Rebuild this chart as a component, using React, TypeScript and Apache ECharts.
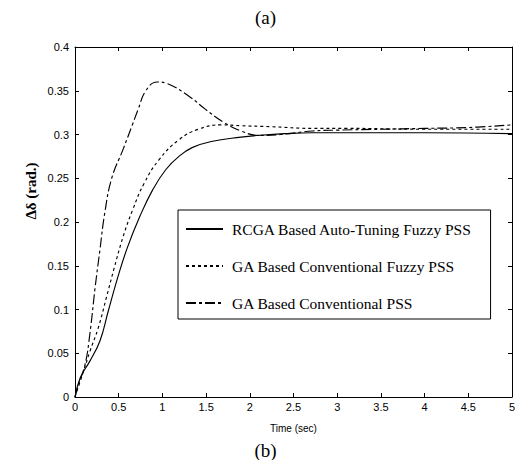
import React, { useEffect, useRef } from "react";
import * as echarts from "echarts";

const xTickLabels = ["0", "0.5", "1", "1.5", "2", "2.5", "3", "3.5", "4", "4.5", "5"];
const yTickLabels = ["0", "0.05", "0.1", "0.15", "0.2", "0.25", "0.3", "0.35", "0.4"];

const seriesNames = [
  "RCGA Based Auto-Tuning Fuzzy PSS",
  "GA Based Conventional Fuzzy PSS",
  "GA Based Conventional PSS",
];

const tRcga = [0, 0.06, 0.17, 0.285, 0.38, 0.49, 0.6, 0.74, 0.89, 1.04, 1.19, 1.34, 1.56, 1.9, 2.1, 2.4, 2.72, 3.2, 4.0, 5.0];
const vRcga = [0, 0.022, 0.041, 0.064, 0.098, 0.137, 0.171, 0.206, 0.237, 0.26, 0.275, 0.285, 0.292, 0.297, 0.299, 0.301, 0.302, 0.302, 0.302, 0.301];

const tFuzzy = [0, 0.096, 0.17, 0.266, 0.36, 0.45, 0.55, 0.66, 0.79, 0.96, 1.19, 1.41, 1.68, 1.9, 2.23, 2.72, 3.1, 4.0, 5.0];
const vFuzzy = [0, 0.029, 0.052, 0.079, 0.114, 0.148, 0.183, 0.214, 0.244, 0.271, 0.294, 0.306, 0.311, 0.31, 0.309, 0.307, 0.307, 0.306, 0.306];

const tConv = [0, 0.04, 0.115, 0.17, 0.23, 0.285, 0.34, 0.42, 0.55, 0.66, 0.72, 0.81, 0.94, 1.06, 1.3, 1.49, 1.7, 1.9, 2.1, 2.35, 2.72, 3.0, 3.5, 4.0, 4.5, 5.0];
const vConv = [0, 0.014, 0.037, 0.072, 0.125, 0.168, 0.21, 0.25, 0.283, 0.312, 0.328, 0.35, 0.36, 0.358, 0.344, 0.329, 0.314, 0.304, 0.299, 0.3, 0.304, 0.305, 0.306, 0.307, 0.308, 0.311];

const zip = (t: number[], v: number[]) => t.map((x, i) => [x, v[i]]);

export default function App() {
  const ref = useRef<HTMLDivElement>(null);
  useEffect(() => {
    if (!ref.current) return;
    const chart = echarts.init(ref.current, null, { renderer: "svg" });
    const sans = "'Liberation Sans', Arial, sans-serif";
    const serif = "'Liberation Serif', 'Times New Roman', serif";
    const axisCommon = {
      axisLine: { show: true, onZero: false, lineStyle: { color: "#000", width: 1 } },
      axisTick: { show: true, inside: true, length: 4, lineStyle: { color: "#000" } },
      splitLine: { show: false },
    };
    const lineSeries = (i: number, data: number[][], type: any) => ({
      name: seriesNames[i],
      type: "line",
      data,
      smooth: 0.45,
      showSymbol: false,
      symbol: "none",
      lineStyle: { color: "#000", width: 1.15, type },
      itemStyle: { color: "#000" },
    });
    const option: any = {
      animation: false,
      backgroundColor: "#fff",
      title: [
        {
          text: "(a)",
          left: "center",
          top: 3,
          textStyle: { fontFamily: serif, fontSize: 19, fontWeight: "normal", color: "#000" },
        },
        {
          text: "(b)",
          left: "center",
          top: 436,
          textStyle: { fontFamily: serif, fontSize: 19, fontWeight: "normal", color: "#000" },
        },
      ],
      grid: { left: 75, right: 19, top: 47, bottom: 71 },
      xAxis: [
        {
          type: "value",
          min: 0,
          max: 5,
          interval: 0.5,
          ...axisCommon,
          axisLabel: {
            color: "#000",
            fontFamily: sans,
            fontSize: 11,
            margin: 4,
            formatter: (v: number) => xTickLabels[Math.round(v / 0.5)] ?? "",
          },
          name: "Time (sec)",
          nameLocation: "middle",
          nameGap: 26,
          nameTextStyle: { color: "#000", fontFamily: sans, fontSize: 10 },
        },
        {
          type: "value",
          position: "top",
          min: 0,
          max: 5,
          interval: 0.5,
          ...axisCommon,
          axisLabel: { show: false },
        },
      ],
      yAxis: [
        {
          type: "value",
          min: 0,
          max: 0.4,
          interval: 0.05,
          ...axisCommon,
          axisLabel: {
            color: "#000",
            fontFamily: sans,
            fontSize: 11,
            margin: 6,
            formatter: (v: number) => yTickLabels[Math.round(v / 0.05)] ?? "",
          },
        },
        {
          type: "value",
          position: "right",
          min: 0,
          max: 0.4,
          interval: 0.05,
          ...axisCommon,
          axisLabel: { show: false },
        },
      ],
      legend: {
        orient: "vertical",
        left: 178,
        top: 210,
        backgroundColor: "#fff",
        borderColor: "#000",
        borderWidth: 1,
        borderRadius: 0,
        padding: [11, 18, 8, 7],
        itemWidth: 37,
        itemHeight: 14,
        itemGap: 21,
        itemStyle: { color: "transparent", borderColor: "transparent", borderWidth: 0, opacity: 0 },
        data: seriesNames.map((n) => ({ name: n })),
        textStyle: { fontFamily: serif, fontSize: 15.5, color: "#000", padding: [0, 0, 0, 4] },
      },
      series: [
        lineSeries(0, zip(tRcga, vRcga), "solid"),
        lineSeries(1, zip(tFuzzy, vFuzzy), [3, 3]),
        lineSeries(2, zip(tConv, vConv), [10, 3, 3, 3]),
      ],
      graphic: [
        {
          type: "text",
          x: 31,
          y: 191,
          rotation: Math.PI / 2,
          style: {
            text: "Δδ (rad.)",
            fontFamily: serif,
            fontSize: 15,
            fontWeight: "bold",
            fill: "#000",
            align: "center",
            verticalAlign: "middle",
          },
        },
      ],
    };
    chart.setOption(option);
    return () => chart.dispose();
  }, []);
  return <div ref={ref} style={{ width: 531, height: 468, margin: -8 }} />;
}
